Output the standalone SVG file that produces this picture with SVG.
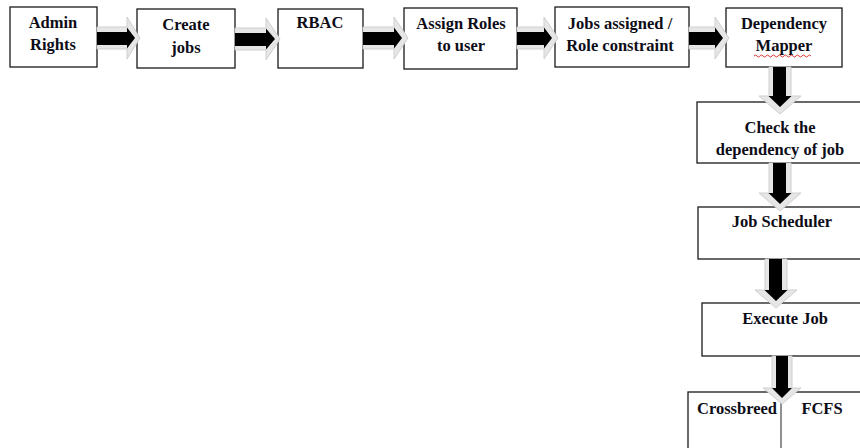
<svg xmlns="http://www.w3.org/2000/svg" width="860" height="448" viewBox="0 0 860 448">
<style>
.box{fill:#fff;stroke:#1a1a1a;stroke-width:1.3}
.t{font-family:"Liberation Serif","Times New Roman",serif;font-weight:bold;font-size:16.5px;fill:#0d0d18;text-anchor:middle}
.ash{fill:#e6e6e6;stroke:#cfcfcf;stroke-width:1}
.ahd{fill:#000}
</style>
<rect width="860" height="448" fill="#fff"/>
<g id="admin"><rect class="box" x="10" y="7" width="87" height="60"/><text class="t" x="53" y="28">Admin</text><text class="t" x="53" y="50">Rights</text></g>
<g id="create"><rect class="box" x="137" y="9" width="98" height="59"/><text class="t" x="186" y="30">Create</text><text class="t" x="186" y="53">jobs</text></g>
<g id="rbac"><rect class="box" x="278" y="9" width="85" height="59"/><text class="t" x="320" y="28">RBAC</text></g>
<g id="assign"><rect class="box" x="404" y="8" width="113" height="61"/><text class="t" x="461" y="29">Assign Roles</text><text class="t" x="461" y="51">to user</text></g>
<g id="jobsassigned"><rect class="box" x="555" y="7" width="134" height="60"/><text class="t" x="620" y="29">Jobs assigned /</text><text class="t" x="620" y="51">Role constraint</text></g>
<g id="depmapper"><rect class="box" x="726" y="8" width="116" height="59"/><text class="t" x="784" y="29">Dependency</text><text class="t" x="784" y="51">Mapper</text><path d="M754,56 q1.5,-2 3,0 t3,0 t3,0 t3,0 t3,0 t3,0 t3,0 t3,0 t3,0 t3,0 t3,0 t3,0 t3,0 t3,0 t3,0 t3,0 t3,0 t3,0 t3,0" fill="none" stroke="#e02020" stroke-width="0.9"/></g>
<g id="check"><rect class="box" x="697" y="102" width="170" height="61"/><text class="t" x="780" y="133">Check the</text><text class="t" x="780" y="155">dependency of job</text></g>
<g id="scheduler"><rect class="box" x="698" y="207" width="170" height="52"/><text class="t" x="782" y="227">Job Scheduler</text></g>
<g id="execute"><rect class="box" x="702" y="303" width="166" height="53"/><text class="t" x="785" y="324">Execute Job</text></g>
<g id="algos"><rect class="box" x="688" y="392" width="180" height="60"/><line x1="781" y1="392" x2="781" y2="448" stroke="#555" stroke-width="1.3"/><text class="t" x="737" y="414">Crossbreed</text><text class="t" x="822" y="414">FCFS</text></g>
<g id="connectors">
<g><path class="ash" d="M97,27 L127,27 L127,17 L140,38 L127,59 L127,49 L97,49 Z"/><path class="ahd" d="M97,32 L127,32 L127,27.5 L135,38 L127,48.5 L127,45 L97,45 Z"/></g>
<g><path class="ash" d="M235,28 L266,28 L266,18 L280,39 L266,60 L266,50 L235,50 Z"/><path class="ahd" d="M235,33 L266,33 L266,28.5 L275,39 L266,49.5 L266,46 L235,46 Z"/></g>
<g><path class="ash" d="M363,27 L394,27 L394,17 L408,38 L394,59 L394,49 L363,49 Z"/><path class="ahd" d="M363,32 L394,32 L394,27.5 L402,38 L394,48.5 L394,45 L363,45 Z"/></g>
<g><path class="ash" d="M517,27 L544,27 L544,17 L558,38 L544,59 L544,49 L517,49 Z"/><path class="ahd" d="M517,32 L544,32 L544,27.5 L552,38 L544,48.5 L544,45 L517,45 Z"/></g>
<g><path class="ash" d="M689,27 L715,27 L715,17 L729,38 L715,59 L715,49 L689,49 Z"/><path class="ahd" d="M689,32 L715,32 L715,27.5 L723,38 L715,48.5 L715,45 L689,45 Z"/></g>
<g><path class="ash" d="M769,67 L769,96 L759,96 L780,114 L801,96 L791,96 L791,67 Z"/><path class="ahd" d="M773,67 L773,96 L768.5,96 L780,107 L791.5,96 L786,96 L786,67 Z"/></g>
<g><path class="ash" d="M769,163 L769,193 L759,193 L780,211 L801,193 L791,193 L791,163 Z"/><path class="ahd" d="M773,163 L773,193 L768.5,193 L780,204 L791.5,193 L786,193 L786,163 Z"/></g>
<g><path class="ash" d="M765,259 L765,290 L755,290 L776,308 L797,290 L787,290 L787,259 Z"/><path class="ahd" d="M769,259 L769,290 L764.5,290 L776,301 L787.5,290 L782,290 L782,259 Z"/></g>
<g><path class="ash" d="M772,356 L772,388 L763,388 L782,404 L801,388 L792,388 L792,356 Z"/><path class="ahd" d="M776,356 L776,388 L772,388 L782,398 L792,388 L788,388 L788,356 Z"/></g>
</g>
</svg>
